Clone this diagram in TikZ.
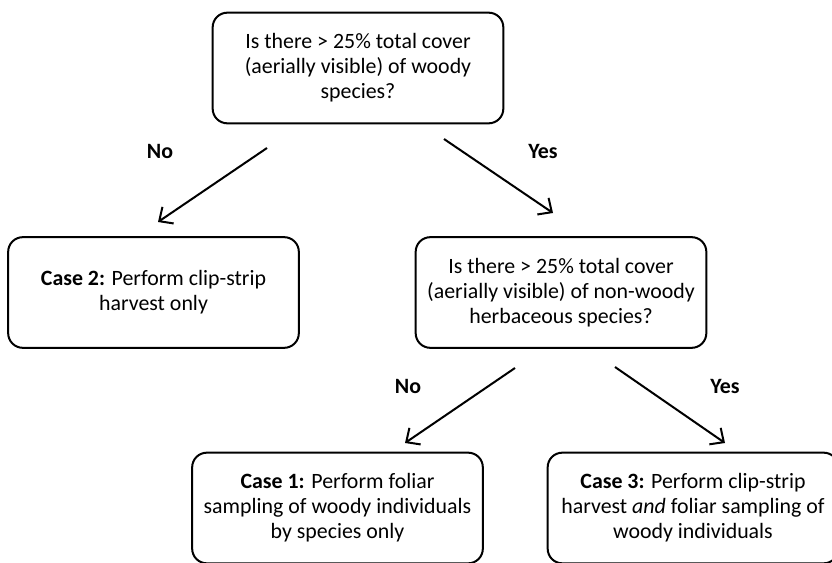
\documentclass[tikz,border=0pt]{standalone}
\usepackage{fontspec}
\setmainfont{Carlito}
\usetikzlibrary{arrows.meta}

\tikzset{every picture/.style={line width=1.5pt}}

\begin{document}
\begin{tikzpicture}[x=0.75pt,y=0.75pt,yscale=-1,xscale=1,
  box/.style={draw,rounded corners=11pt,minimum width=218pt,minimum height=83pt,align=center,inner sep=0.75pt,font=\fontsize{16.4}{18.8}\selectfont},
  lbl/.style={inner sep=0.75pt,font=\fontsize{16.4}{18.8}\selectfont\bfseries},
  arr/.style={-{Straight Barb[length=8pt,width=15pt]},line width=1.5pt}]
\useasboundingbox (0,0) rectangle (832,563);

%Rounded Rect
\node [box] (woody) at (358,68) {Is there > 25\% total cover\\(aerially visible) of woody\\species?};
%Rounded Rect
\node [box] (case2) at (153.5,292.5) {\textbf{Case 2:} Perform clip-strip\\harvest only};
%Rounded Rect
\node [box] (herb) at (561,292.5) {Is there > 25\% total cover\\(aerially visible) of non-woody\\herbaceous species?};
%Rounded Rect
\node [box] (case1) at (337.5,508) {\textbf{Case 1:} Perform foliar\\sampling of woody individuals\\by species only};
%Rounded Rect
\node [box] (case3) at (693,508) {\textbf{Case 3:} Perform clip-strip\\harvest \textit{and} foliar sampling of\\woody individuals};

%Straight Lines
\coordinate (woodyNo) at (267,148);
\coordinate (case2In) at (158,222);
\coordinate (woodyYes) at (444,139);
\coordinate (herbIn) at (553,213);
\coordinate (herbNo) at (515,368);
\coordinate (case1In) at (405,443);
\coordinate (herbYes) at (615,367);
\coordinate (case3In) at (725,443);
\draw [arr] (woodyNo) -- (case2In);
\draw [arr] (woodyYes) -- (herbIn);
\draw [arr] (herbNo) -- (case1In);
\draw [arr] (herbYes) -- (case3In);

% Text Node
\node [lbl] (no1) at (160,151) {No};
% Text Node
\node [lbl] (yes1) at (543,151) {Yes};
% Text Node
\node [lbl] (no2) at (408,386) {No};
% Text Node
\node [lbl] (yes2) at (725,386) {Yes};

\end{tikzpicture}
\end{document}
